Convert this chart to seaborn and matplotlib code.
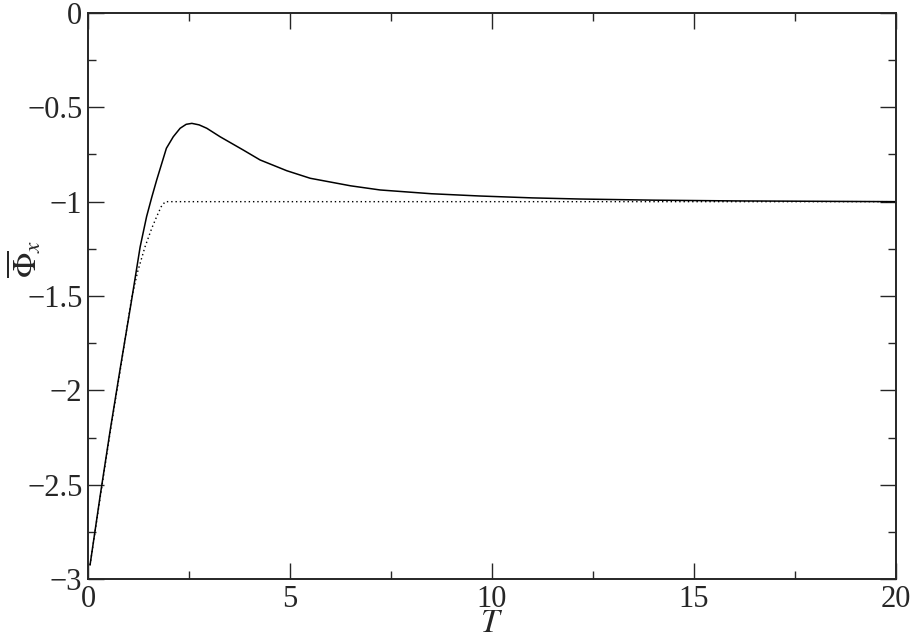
import pandas as pd
import matplotlib
matplotlib.use("Agg")
import matplotlib.pyplot as plt
import seaborn as sns
from matplotlib.ticker import MultipleLocator, FuncFormatter

# solid curve
t_solid = [0.05, 0.3, 0.55, 0.8, 1.08, 1.29, 1.45, 1.58, 1.70, 1.94, 2.11, 2.28, 2.43,
           2.57, 2.75, 2.94, 3.27, 3.84, 4.26, 4.92, 5.5, 6.5, 7.23, 8.5, 9.7, 11.0,
           12.18, 14.0, 16.0, 18.0, 20.0]
phi_solid = [-2.926, -2.56, -2.21, -1.88, -1.52, -1.24, -1.079, -0.975, -0.885, -0.717,
             -0.656, -0.611, -0.59, -0.585, -0.593, -0.611, -0.656, -0.726, -0.779,
             -0.836, -0.876, -0.916, -0.938, -0.958, -0.970, -0.980, -0.986, -0.992,
             -0.996, -0.998, -1.0]

# dotted curve
t_dot = [0.05, 0.3, 0.55, 0.8, 1.08, 1.23, 1.41, 1.58, 1.70, 1.81, 1.91, 2.0, 20.0]
phi_dot = [-2.926, -2.57, -2.22, -1.89, -1.51, -1.37, -1.24, -1.14, -1.079, -1.027,
           -1.0, -1.0, -1.0]

sns.set_style("ticks")
plt.rcParams['font.family'] = ['Liberation Serif', 'DejaVu Serif']
plt.rcParams['mathtext.fontset'] = 'stix'

fig, ax = plt.subplots(figsize=(9.14, 6.4), dpi=100)
fig.subplots_adjust(left=0.0963, right=0.9803, bottom=0.0953, top=0.9797)

df_solid = pd.DataFrame({'T': t_solid, 'phi': phi_solid})
df_dot = pd.DataFrame({'T': t_dot, 'phi': phi_dot})

sns.lineplot(data=df_solid, x='T', y='phi', ax=ax, color='black', linewidth=1.1)
sns.lineplot(data=df_dot, x='T', y='phi', ax=ax, color='black', linewidth=1.0,
             linestyle=(0, (1, 2.1)))

ax.set_xlim(0, 20)
ax.set_ylim(-3, 0)
ax.xaxis.set_major_locator(MultipleLocator(5))
ax.xaxis.set_minor_locator(MultipleLocator(2.5))
ax.yaxis.set_major_locator(MultipleLocator(0.5))
ax.yaxis.set_minor_locator(MultipleLocator(0.25))
fmt = FuncFormatter(lambda v, p: ('%g' % v).replace('-', '\u2212'))
ax.xaxis.set_major_formatter(fmt)
ax.yaxis.set_major_formatter(fmt)

ax.tick_params(which='both', direction='in', top=True, right=True, width=1.0,
               labelsize=22, pad=4)
ax.tick_params(which='major', length=11.5)
ax.tick_params(which='minor', length=5.8)
for s in ax.spines.values():
    s.set_linewidth(1.4)
    s.set_visible(True)

ax.set_xlabel('$T$', fontsize=24)
ax.xaxis.set_label_coords(0.5, -0.052)
ax.set_ylabel(r'$\overline{\Phi}_x$', fontsize=24)
ax.yaxis.set_label_coords(-0.055, 0.565)

plt.savefig('out.png', dpi=100)
plt.close()
